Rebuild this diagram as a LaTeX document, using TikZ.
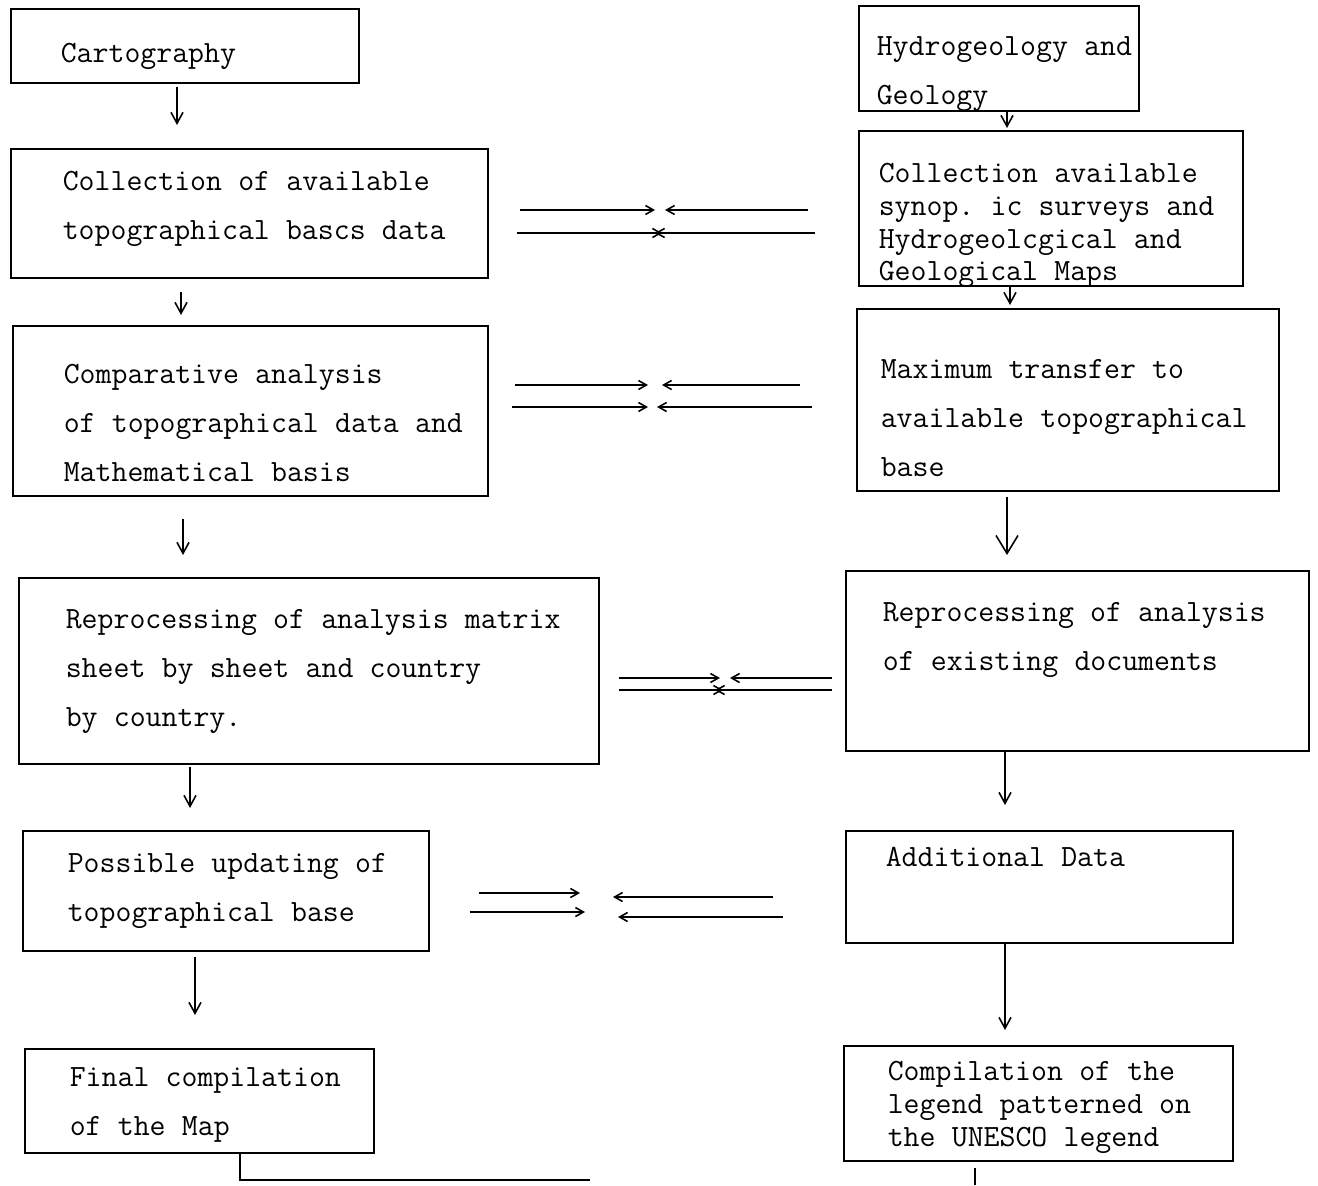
\documentclass[tikz,border=0pt]{standalone}
\usepackage{fontspec}
\usetikzlibrary{arrows.meta}
\newdimen\pxl
\pxl=0.2mm
\tikzset{
    box/.style n args={4}{
        draw,
        anchor=north west,
        inner sep=0pt,
        align=left,
        font=\ttfamily\fontsize{17.6}{27.9}\selectfont\frenchspacing,
        text width=#1\pxl,
        text height=#2\pxl,
        text depth=#3\pxl,
        execute at begin node={\leftskip=#4\pxl\spaceskip=0.525em\relax}
    },
    dense/.style={font=\ttfamily\fontsize{17.6}{18.6}\selectfont\frenchspacing},
    vflow/.style={-{Straight Barb[length=2.2mm,width=2.4mm]}},
    bigflow/.style={-{Straight Barb[length=3.6mm,width=4.4mm]}},
    hflow/.style={-{Straight Barb[length=1.6mm,width=1.8mm]}}
}
\begin{document}
\begin{tikzpicture}[x=0.2mm,y=-0.2mm,line width=0.9pt]
\useasboundingbox (0,0) rectangle (1318,1185);
% left column: cartography
\node[box={348}{54}{20}{50}] (cart) at (10,8) {Cartography};
\node[box={477}{42}{87}{52}] (collL) at (10,148)
    {Collection of available\\topographical bascs data};
\node[box={475}{58}{112}{51}] (compL) at (12,325)
    {Comparative analysis\\of topographical data and\\Mathematical basis};
\node[box={580}{51}{135}{47}] (reprL) at (18,577)
    {Reprocessing of analysis matrix\\sheet by sheet and country\\by country.};
\node[box={406}{42}{78}{45}] (updL) at (22,830)
    {Possible updating of\\topographical base};
\node[box={349}{38}{66}{45}] (final) at (24,1048)
    {Final compilation\\of the Map};
% right column: hydrogeology
\node[box={280}{50}{55}{18}] (hydro) at (858,5) {Hydrogeology and\\Geology};
\node[box={384}{52}{103}{20},dense] (collR) at (858,130)
    {Collection available\\synop. ic surveys and\\Hydrogeolcgical and\\Geological Maps};
\node[box={422}{70}{112}{24}] (maxR) at (856,308)
    {Maximum transfer to\\available topographical\\base};
\node[box={463}{51}{129}{37}] (reprR) at (845,570)
    {Reprocessing of analysis\\of existing documents};
\node[box={387}{36}{76}{40}] (addR) at (845,830) {Additional Data};
\node[box={389}{35}{80}{44},dense] (legend) at (843,1045)
    {Compilation of the\\legend patterned on\\the UNESCO legend};

% vertical flow
\foreach \a/\b/\x/\s/\e in {cart/collL/177/3/23, collL/compL/181/13/10,
    compL/reprL/183/22/22, reprL/updL/190/2/22, updL/final/195/5/33,
    hydro/collR/1007/0/2, collR/maxR/1010/0/3, reprR/addR/1005/0/25,
    addR/legend/1005/0/15}
  \draw[vflow,shorten <=\s\pxl,shorten >=\e\pxl] (\a.south -| \x,0) -- (\b.north -| \x,0);
\draw[bigflow,shorten <=5\pxl,shorten >=15\pxl] (maxR.south -| 1007,0) -- (reprR.north -| 1007,0);

% exchange between the columns
\foreach \l/\r/\yl/\yr/\gl/\gr/\xa/\xb in {
    collL/collR/210/210/31/50/655/665, collL/collR/233/233/28/43/662/655,
    compL/maxR/385/385/26/56/648/662, compL/maxR/407/407/23/44/648/657,
    reprL/reprR/678/678/19/13/720/730, reprL/reprR/690/690/19/13/723/715,
    updL/addR/893/897/49/72/580/613, updL/addR/912/917/40/62/585/618}
{
  \coordinate (hl) at (\xa,\yl);
  \coordinate (hr) at (\xb,\yr);
  \draw[hflow,shorten <=\gl\pxl] (\l.east |- hl) -- (hl);
  \draw[hflow,shorten <=\gr\pxl] (\r.west |- hr) -- (hr);
}

% lines leaving the bottom
\coordinate (tail) at (590,1180);
\coordinate (tail2) at (975,1185);
\draw (final.south -| 240,0) |- (tail);
\draw[shorten <=6\pxl] (legend.south -| tail2) -- (tail2);
\end{tikzpicture}
\end{document}
